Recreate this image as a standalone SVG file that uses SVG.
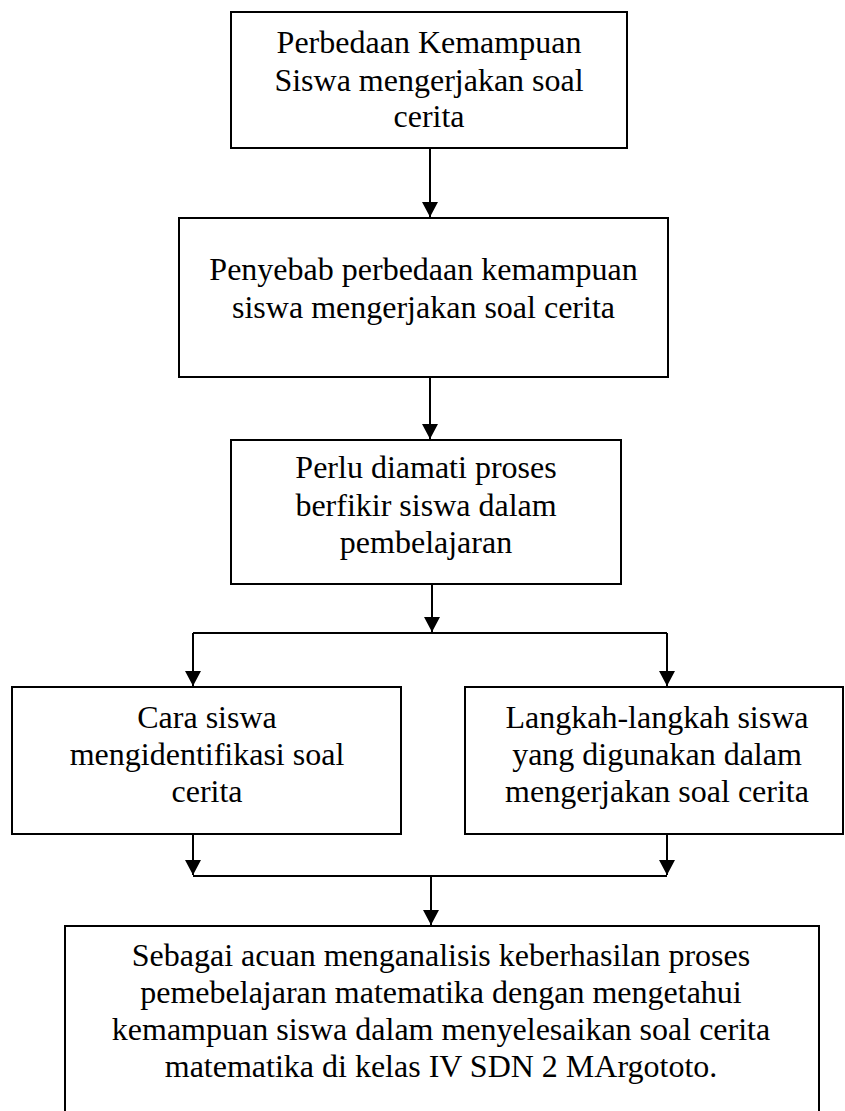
<svg xmlns="http://www.w3.org/2000/svg" width="845" height="1111" viewBox="0 0 845 1111">
<style>
.box{fill:#fff;stroke:#000;stroke-width:2}
.t{font-family:"Liberation Serif","Times New Roman",serif;font-size:32px;fill:#000;text-anchor:middle}
.c{stroke:#000;stroke-width:2;fill:none}
</style>
<defs>
<marker id="ah" markerUnits="userSpaceOnUse" markerWidth="16" markerHeight="16" viewBox="0 0 16 16" refX="15" refY="8" orient="auto">
<polygon points="0,0 15,8 0,16" fill="#000"/>
</marker>
</defs>
<rect width="845" height="1111" fill="#fff"/>
<g id="connectors">
<line class="c" x1="430" y1="148" x2="430" y2="217" marker-end="url(#ah)"/>
<line class="c" x1="430" y1="377" x2="430" y2="439" marker-end="url(#ah)"/>
<line class="c" x1="432" y1="585" x2="432" y2="632" marker-end="url(#ah)"/>
<line class="c" x1="193" y1="633" x2="667" y2="633"/>
<line class="c" x1="193" y1="633" x2="193" y2="686" marker-end="url(#ah)"/>
<line class="c" x1="667" y1="633" x2="667" y2="686" marker-end="url(#ah)"/>
<line class="c" x1="193" y1="834" x2="193" y2="875" marker-end="url(#ah)"/>
<line class="c" x1="667" y1="834" x2="667" y2="875" marker-end="url(#ah)"/>
<line class="c" x1="193" y1="876" x2="667" y2="876"/>
<line class="c" x1="431" y1="876" x2="431" y2="925" marker-end="url(#ah)"/>
</g>
<g id="n1">
<rect class="box" x="231" y="12" width="396" height="136"/>
<text class="t" x="429" y="53">Perbedaan Kemampuan</text>
<text class="t" x="429" y="91">Siswa mengerjakan soal</text>
<text class="t" x="429" y="127">cerita</text>
</g>
<g id="n2">
<rect class="box" x="179" y="218" width="489" height="159"/>
<text class="t" x="423.5" y="280">Penyebab perbedaan kemampuan</text>
<text class="t" x="423.5" y="318">siswa mengerjakan soal cerita</text>
</g>
<g id="n3">
<rect class="box" x="231" y="440" width="390" height="144"/>
<text class="t" x="426" y="478">Perlu diamati proses</text>
<text class="t" x="426" y="516">berfikir siswa dalam</text>
<text class="t" x="426" y="553">pembelajaran</text>
</g>
<g id="n4">
<rect class="box" x="12" y="687" width="389" height="147"/>
<text class="t" x="207" y="728">Cara siswa</text>
<text class="t" x="207" y="765">mengidentifikasi soal</text>
<text class="t" x="207" y="802">cerita</text>
</g>
<g id="n5">
<rect class="box" x="465" y="687" width="378" height="147"/>
<text class="t" x="657" y="728">Langkah-langkah siswa</text>
<text class="t" x="657" y="765">yang digunakan dalam</text>
<text class="t" x="657" y="802">mengerjakan soal cerita</text>
</g>
<g id="n6">
<rect class="box" x="65" y="926" width="754" height="200"/>
<text class="t" x="441" y="966">Sebagai acuan menganalisis keberhasilan proses</text>
<text class="t" x="441" y="1003">pemebelajaran matematika dengan mengetahui</text>
<text class="t" x="441" y="1040">kemampuan siswa dalam menyelesaikan soal cerita</text>
<text class="t" x="441" y="1077">matematika di kelas IV SDN 2 MArgototo.</text>
</g>
</svg>
